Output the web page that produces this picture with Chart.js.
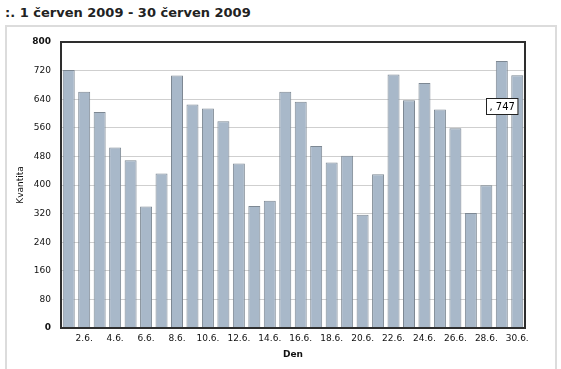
<!DOCTYPE html>
<html>

<head>
    <title>Kvantita - červen 2009</title>
    <script src="https://cdn.jsdelivr.net/npm/chart.js"></script>
    <style>
        html, body {
            margin: 0;
            padding: 0;
            background: #fff;
            width: 561px;
            height: 369px;
            overflow: hidden;
        }

        .heading {
            position: absolute;
            left: 5px;
            top: 5px;
            font: bold 13px "DejaVu Sans", Verdana, sans-serif;
            color: #222;
            white-space: nowrap;
        }

        .panel {
            position: absolute;
            left: 5px;
            top: 25px;
            width: 552px;
            height: 360px;
            border: 2px solid #dcdcdc;
            box-sizing: border-box;
        }

        #chart1 {
            position: absolute;
            left: 0;
            top: 0;
        }
    </style>
</head>

<body>
    <div class="heading">:. 1 červen 2009 - 30 červen 2009</div>
    <div class="panel"></div>
    <canvas id="chart1" width="561" height="369"></canvas>

    <script>
        const days = ['1.6.', '2.6.', '3.6.', '4.6.', '5.6.', '6.6.', '7.6.', '8.6.', '9.6.', '10.6.',
            '11.6.', '12.6.', '13.6.', '14.6.', '15.6.', '16.6.', '17.6.', '18.6.', '19.6.', '20.6.',
            '21.6.', '22.6.', '23.6.', '24.6.', '25.6.', '26.6.', '27.6.', '28.6.', '29.6.', '30.6.'];
        const kvantita = [722, 661, 604, 505, 469, 340, 432, 706, 625, 614,
            578, 460, 341, 356, 661, 633, 509, 463, 482, 317,
            430, 709, 637, 685, 611, 559, 322, 399, 747, 707];
        const highlighted = 28; // 29.6. shown with its value box

        const font = '"DejaVu Sans", Verdana, sans-serif';

        // dark frame around the plot area
        const framePlugin = {
            id: 'frame',
            afterDatasetsDraw(chart) {
                const a = chart.chartArea;
                const ctx = chart.ctx;
                ctx.save();
                ctx.strokeStyle = '#2e2e2e';
                ctx.lineWidth = 2;
                ctx.strokeRect(a.left, a.top, a.right - a.left, a.bottom - a.top);
                ctx.restore();
            }
        };

        // small value box like the original hover label
        const valueBoxPlugin = {
            id: 'valueBox',
            afterDraw(chart) {
                const bar = chart.getDatasetMeta(0).data[highlighted];
                const ctx = chart.ctx;
                const text = ', ' + kvantita[highlighted];
                ctx.save();
                ctx.font = '10px ' + font;
                const w = ctx.measureText(text).width + 6;
                const x = Math.round(bar.x - 16) + 0.5;
                const y = Math.round(bar.y + 37) + 0.5;
                ctx.fillStyle = '#fff';
                ctx.fillRect(x, y, w, 16);
                ctx.strokeStyle = '#222';
                ctx.lineWidth = 1;
                ctx.strokeRect(x, y, w, 16);
                ctx.fillStyle = '#000';
                ctx.textBaseline = 'middle';
                ctx.fillText(text, x + 3, y + 8.5);
                ctx.restore();
            }
        };

        new Chart(document.getElementById('chart1'), {
            type: 'bar',
            data: {
                labels: days,
                datasets: [{
                    label: 'Kvantita',
                    data: kvantita,
                    backgroundColor: '#a8b8c9',
                    borderColor: '#7d8893',
                    borderWidth: { top: 1, left: 1, right: 1, bottom: 0 },
                    borderSkipped: 'bottom',
                    barPercentage: 0.775,
                    categoryPercentage: 1.0
                }]
            },
            options: {
                responsive: false,
                animation: false,
                layout: {
                    padding: { left: 0, top: 42, right: 36, bottom: 0 }
                },
                plugins: {
                    legend: { display: false },
                    tooltip: { enabled: false }
                },
                scales: {
                    x: {
                        grid: { display: false, drawTicks: false },
                        border: { display: false },
                        ticks: {
                            autoSkip: false,
                            maxRotation: 0,
                            padding: 5,
                            color: '#111',
                            font: { family: font, size: 9 },
                            callback: function (value, index) {
                                return index % 2 === 1 ? days[index] : '';
                            }
                        },
                        title: {
                            display: true,
                            text: 'Den',
                            color: '#111',
                            font: { family: font, size: 9, weight: 'bold' },
                            padding: 9
                        },
                        afterFit(scale) {
                            scale.height = 41;
                        }
                    },
                    y: {
                        min: 0,
                        max: 800,
                        grid: { color: '#cfcfcf', lineWidth: 1, drawTicks: false },
                        border: { display: false },
                        ticks: {
                            stepSize: 80,
                            padding: 10,
                            color: '#111',
                            font: function (ctx) {
                                const v = ctx.tick ? ctx.tick.value : null;
                                const bold = v === 0 || v === 800;
                                return { family: font, size: 9, weight: bold ? 'bold' : 'normal' };
                            }
                        },
                        title: {
                            display: true,
                            text: 'Kvantita',
                            color: '#111',
                            font: { family: font, size: 9 },
                            padding: 15
                        },
                        afterFit(scale) {
                            scale.width = 61;
                        }
                    }
                }
            },
            plugins: [framePlugin, valueBoxPlugin]
        });
    </script>
</body>

</html>
